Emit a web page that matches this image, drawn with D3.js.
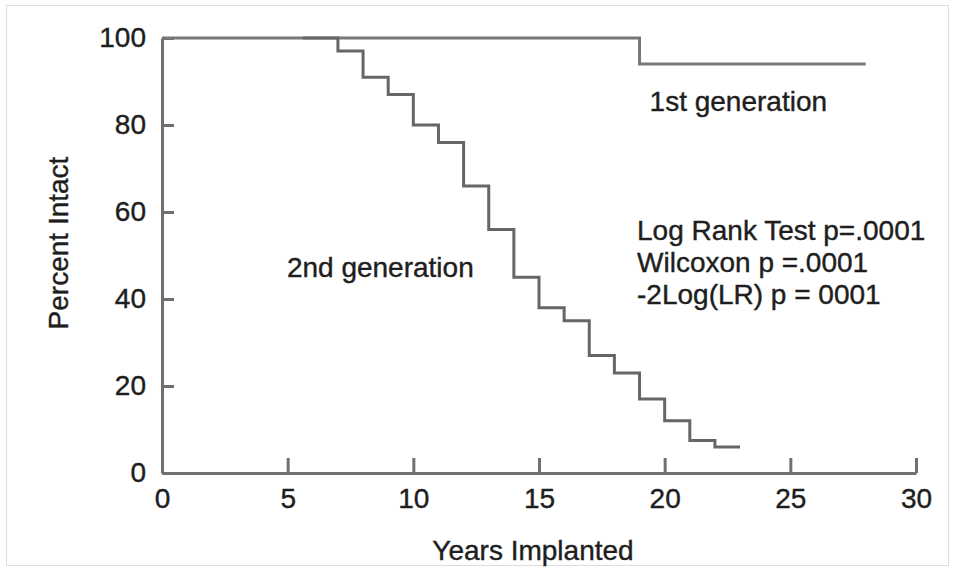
<!DOCTYPE html>
<html>
<head>
<meta charset="utf-8">
<script src="https://cdn.jsdelivr.net/npm/d3@7"></script>
<style>
  body { margin: 0; background: #fff; }
  text { font-family: "Liberation Sans", Arial, sans-serif; fill: #1e1e1e; stroke: #1e1e1e; stroke-width: 0.4; }
  .axis path, .axis line { stroke: #707070; stroke-width: 3; }
  .axis text { font-size: 28px; font-family: "Liberation Sans", Arial, sans-serif; fill: #1e1e1e; stroke: #1e1e1e; stroke-width: 0.4; }
</style>
</head>
<body>
<div id="chart"></div>
<script>
// =====================================
// DATA
// =====================================

const xTicks = [0, 5, 10, 15, 20, 25, 30];
const yTicks = [0, 20, 40, 60, 80, 100];

// 1st generation (step curve)
const gen1Years = [0, 19, 28];
const gen1Pct = [100, 94, 94];

// 2nd generation (step curve)
const gen2Years = [5.6, 7, 8, 9, 10, 11, 12, 13, 14, 15, 16, 17, 18, 19, 20, 21, 22, 23];
const gen2Pct = [100, 97, 91, 87, 80, 76, 66, 56, 45, 38, 35, 27, 23, 17, 12, 7.5, 6, 6];

const statLines = [
  "Log Rank Test p=.0001",
  "Wilcoxon p =.0001",
  "-2Log(LR) p = 0001"
];

// =====================================
// DIMENSIONS
// =====================================

const W = 955, H = 571;
const margin = { top: 38, right: 39, bottom: 98, left: 162 };
const width = W - margin.left - margin.right;
const height = H - margin.top - margin.bottom;

const root = d3.select("#chart")
  .append("svg")
  .attr("width", W)
  .attr("height", H);

// light frame round the picture
root.append("rect")
  .attr("x", 6.5).attr("y", 5.5)
  .attr("width", W - 13).attr("height", H - 11)
  .attr("fill", "none")
  .attr("stroke", "#ddd");

const svg = root.append("g")
  .attr("transform", `translate(${margin.left},${margin.top})`);

// =====================================
// SCALES
// =====================================

const x = d3.scaleLinear().domain([0, 30]).range([0, width]);
const y = d3.scaleLinear().domain([0, 100]).range([height, 0]);

// =====================================
// AXES
// =====================================

svg.append("g")
  .attr("class", "axis")
  .attr("transform", `translate(0,${height})`)
  .call(d3.axisBottom(x).tickValues(xTicks).tickSize(-15).tickSizeOuter(0).tickPadding(15));

svg.append("g")
  .attr("class", "axis")
  .call(d3.axisLeft(y).tickValues(yTicks).tickSize(-12).tickSizeOuter(0).tickPadding(16));

// =====================================
// CURVES
// =====================================

const line = d3.line()
  .x(d => x(d[0]))
  .y(d => y(d[1]))
  .curve(d3.curveStepAfter);

svg.append("path")
  .datum(d3.zip(gen1Years, gen1Pct))
  .attr("fill", "none")
  .attr("stroke", "#777")
  .attr("stroke-width", 3)
  .attr("d", line);

svg.append("path")
  .datum(d3.zip(gen2Years, gen2Pct))
  .attr("fill", "none")
  .attr("stroke", "#666")
  .attr("stroke-width", 3)
  .attr("d", line);

// =====================================
// LABELS
// =====================================

svg.append("text")
  .attr("x", x(19.4))
  .attr("y", y(83.2))
  .style("font-size", "28px")
  .text("1st generation");

svg.append("text")
  .attr("x", x(4.97))
  .attr("y", y(45.1))
  .style("font-size", "28px")
  .text("2nd generation");

svg.selectAll(".stat")
  .data(statLines)
  .enter()
  .append("text")
  .attr("class", "stat")
  .attr("x", x(18.9))
  .attr("y", (d, i) => y(53.6) + i * 32)
  .style("font-size", "28px")
  .text(d => d);

// axis titles
root.append("text")
  .attr("transform", "translate(68,243) rotate(-90)")
  .attr("text-anchor", "middle")
  .style("font-size", "28px")
  .text("Percent Intact");

root.append("text")
  .attr("x", 533)
  .attr("y", 560)
  .attr("text-anchor", "middle")
  .style("font-size", "28px")
  .text("Years Implanted");
</script>
</body>
</html>
